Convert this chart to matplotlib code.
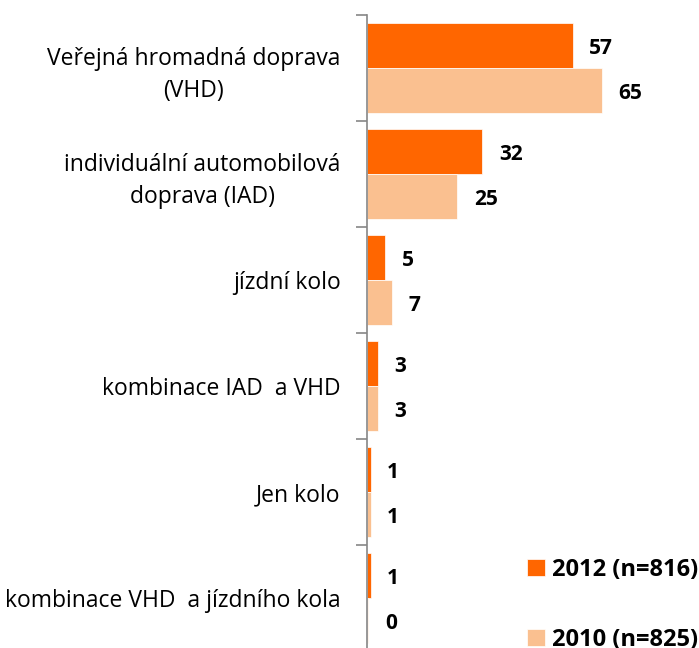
import matplotlib.pyplot as plt
import numpy as np

plt.rcParams['font.family'] = ['Open Sans', 'DejaVu Sans']

# Data
categories = ['Veřejná hromadná doprava\n(VHD)',
              'individuální automobilová\ndoprava (IAD)',
              'jízdní kolo',
              'kombinace IAD  a VHD',
              'Jen kolo',
              'kombinace VHD  a jízdního kola']
values_2012 = [57, 32, 5, 3, 1, 1]
values_2010 = [65, 25, 7, 3, 1, 0.4]
labels_2012 = ['57', '32', '5', '3', '1', '1']
labels_2010 = ['65', '25', '7', '3', '1', '0']
series_names = ['2012 (n=816)', '2010 (n=825)']

color_2012 = '#FF6600'
color_2010 = '#FAC090'

fig = plt.figure(figsize=(6.99, 6.48), dpi=100)
ax = fig.add_axes([367 / 699, -3 / 648, 1 - 367 / 699, 636 / 648])

y = np.arange(len(categories))
h = 0.425
b1 = ax.barh(y - h / 2, values_2012, height=h, color=color_2012,
             edgecolor='white', linewidth=0.5, label=series_names[0])
b2 = ax.barh(y + h / 2, values_2010, height=h, color=color_2010,
             edgecolor='white', linewidth=0.5, label=series_names[1])

# Value labels
for bars, labs in ((b1, labels_2012), (b2, labels_2010)):
    for rect, lab in zip(bars, labs):
        ax.annotate(lab, (rect.get_width(), rect.get_y() + rect.get_height() / 2),
                    xytext=(12, -2), textcoords='offset points',
                    ha='left', va='center', fontsize=15, fontweight='bold')

ax.set_xlim(0, 92)
ax.set_ylim(len(categories) - 0.5, -0.5)

# Category labels at major ticks, tick marks at category boundaries
ax.set_yticks(y)
ax.set_yticklabels(categories, fontsize=16.5, ha='right', multialignment='center',
                   linespacing=1.45)
ax.tick_params(axis='y', which='major', length=0, pad=19)
ax.set_yticks(np.arange(-0.5, len(categories), 1), minor=True)
ax.tick_params(axis='y', which='minor', length=8, color='#868686', width=1.2)

ax.set_xticks([])
for s in ('top', 'right', 'bottom'):
    ax.spines[s].set_visible(False)
ax.spines['left'].set_color('#868686')
ax.spines['left'].set_linewidth(1.2)

# Legend in the lower right corner
fig.legend(handles=[b1, b2], loc='upper left', bbox_to_anchor=(527 / 699, 1 - 558 / 648),
           frameon=False, prop={'weight': 'bold', 'size': 17},
           handlelength=0.75, handleheight=0.75, handletextpad=0.3,
           labelspacing=1.95, borderpad=0, borderaxespad=0)

fig.savefig('out.png', dpi=100)
